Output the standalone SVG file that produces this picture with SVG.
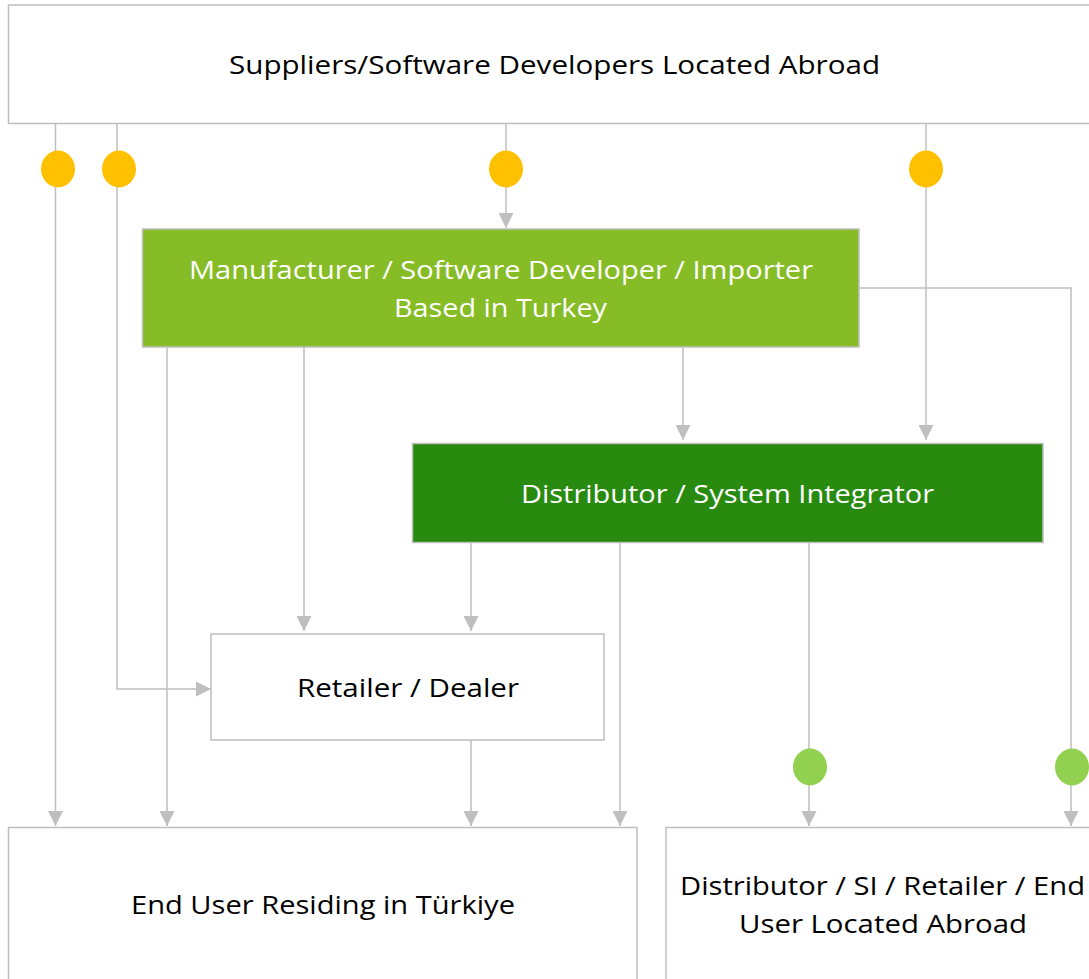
<svg xmlns="http://www.w3.org/2000/svg" width="1089" height="979" viewBox="0 0 1089 979">
<style>
.box{fill:#ffffff;stroke:#BFBFBF;stroke-width:1.5}
.lg{fill:#86BC25;stroke:#BFBFBF;stroke-width:1.5}
.dg{fill:#298A10;stroke:#BFBFBF;stroke-width:1.5}
.t{font-family:"Open Sans","Liberation Sans",Arial,sans-serif;font-size:26px;text-anchor:middle;fill:#000}
.tw{fill:#ffffff}
.c{fill:none;stroke:#BFBFBF;stroke-width:1.5}
.y{fill:#FFC000}
.g{fill:#92D050}
</style>
<defs>
<marker id="ah" markerUnits="userSpaceOnUse" markerWidth="15" markerHeight="15" refX="15" refY="7.5" orient="auto" viewBox="0 0 15 15">
<path d="M0,0 L15,7.5 L0,15 z" fill="#BFBFBF"/>
</marker>
</defs>
<g id="connectors">
<path class="c" d="M55.5,123.5 V826" marker-end="url(#ah)"/>
<path class="c" d="M117,123.5 V689 H211" marker-end="url(#ah)"/>
<path class="c" d="M506,123.5 V228" marker-end="url(#ah)"/>
<path class="c" d="M926,123.5 V440" marker-end="url(#ah)"/>
<path class="c" d="M859,288 H1071 V826" marker-end="url(#ah)"/>
<path class="c" d="M167,347 V826" marker-end="url(#ah)"/>
<path class="c" d="M304,347 V631" marker-end="url(#ah)"/>
<path class="c" d="M683,347 V440" marker-end="url(#ah)"/>
<path class="c" d="M471,543 V631" marker-end="url(#ah)"/>
<path class="c" d="M620,543 V826" marker-end="url(#ah)"/>
<path class="c" d="M809,543 V826" marker-end="url(#ah)"/>
<path class="c" d="M471,740 V826" marker-end="url(#ah)"/>
<ellipse class="y" cx="58" cy="169" rx="17" ry="18.5"/>
<ellipse class="y" cx="119" cy="169" rx="17" ry="18.5"/>
<ellipse class="y" cx="506" cy="169" rx="17" ry="18.5"/>
<ellipse class="y" cx="926" cy="169" rx="17" ry="18.5"/>
<ellipse class="g" cx="810" cy="767" rx="17" ry="18.5"/>
<ellipse class="g" cx="1072" cy="767" rx="17" ry="18.5"/>
</g>
<g id="suppliers">
<rect class="box" x="8.5" y="5" width="1090" height="118.5"/>
<text class="t" x="554.5" y="74" textLength="651" lengthAdjust="spacingAndGlyphs">Suppliers/Software Developers Located Abroad</text>
</g>
<g id="manufacturer">
<rect class="lg" x="142.5" y="229" width="716.5" height="118"/>
<text class="t tw" x="501" y="279" textLength="624" lengthAdjust="spacingAndGlyphs">Manufacturer / Software Developer / Importer</text>
<text class="t tw" x="500.5" y="317" textLength="213" lengthAdjust="spacingAndGlyphs">Based in Turkey</text>
</g>
<g id="distributor">
<rect class="dg" x="412.5" y="443.5" width="630.5" height="99"/>
<text class="t tw" x="727.5" y="503" textLength="413" lengthAdjust="spacingAndGlyphs">Distributor / System Integrator</text>
</g>
<g id="retailer">
<rect class="box" x="211" y="634" width="393" height="106"/>
<text class="t" x="408" y="697" textLength="222" lengthAdjust="spacingAndGlyphs">Retailer / Dealer</text>
</g>
<g id="enduser">
<rect class="box" x="8.5" y="827.5" width="628.5" height="160"/>
<text class="t" x="323" y="914" textLength="384" lengthAdjust="spacingAndGlyphs">End User Residing in Türkiye</text>
</g>
<g id="abroad">
<rect class="box" x="666" y="827.5" width="440" height="160"/>
<text class="t" x="882.5" y="895" textLength="405" lengthAdjust="spacingAndGlyphs">Distributor / SI / Retailer / End</text>
<text class="t" x="883" y="933" textLength="288" lengthAdjust="spacingAndGlyphs">User Located Abroad</text>
</g>
</svg>
